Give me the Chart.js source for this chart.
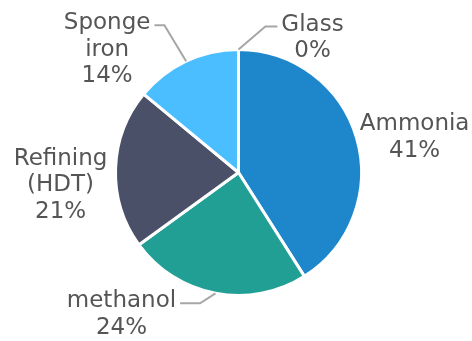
<!DOCTYPE html>
<html lang="en">
<head>
    <meta charset="UTF-8">
    <title>Hydrogen demand by use</title>
    <script src="https://cdn.jsdelivr.net/npm/chart.js"></script>
    <style>
        body {
            margin: 0;
            padding: 0;
            background-color: #fff;
        }
        canvas {
            display: block;
        }
    </style>
</head>
<body>
<canvas id="useChart" width="472" height="341"></canvas>
<script>
    // Slices, clockwise from 12 o'clock
    const categories = [['Ammonia'], ['methanol'], ['Refining', '(HDT)'], ['Sponge', 'iron'], ['Glass']];
    const shares = [41, 24, 21, 14, 0];
    const sliceColors = ['#1E87CB', '#229F95', '#4A5067', '#4BBEFF', '#A5A5A5'];

    // Label placement: offset of the text block (centre x, first baseline) from the slice's outer mid point,
    // and length of the horizontal part of the leader line (0 = no leader)
    const labelOffsets = [[58, -8], [-94, 14], [-55, -4], [-79, -32], [74, -19]];
    const leaderRuns = [0, 20, 0, 10, 12];

    const lineHeight = 26.5;
    const labelFont = '23px "DejaVu Sans", Verdana, sans-serif';

    const outsideLabels = {
        id: 'outsideLabels',
        afterDatasetsDraw(chart) {
            const ctx = chart.ctx;
            const meta = chart.getDatasetMeta(0);
            ctx.save();
            ctx.font = labelFont;
            ctx.textBaseline = 'alphabetic';
            meta.data.forEach((arc, i) => {
                const p = arc.getProps(['x', 'y', 'startAngle', 'endAngle', 'outerRadius'], true);
                const mid = (p.startAngle + p.endAngle) / 2;
                const ex = p.x + Math.cos(mid) * p.outerRadius;
                const ey = p.y + Math.sin(mid) * p.outerRadius;
                const tx = ex + labelOffsets[i][0];
                const ty = ey + labelOffsets[i][1];
                const lines = categories[i].concat([shares[i] + '%']);

                if (leaderRuns[i] > 0) {
                    const half = ctx.measureText(lines[0]).width / 2;
                    const side = tx > ex ? -1 : 1;
                    const endX = tx + side * (half + 4);
                    const lineY = ty - 4;
                    ctx.strokeStyle = '#A6A6A6';
                    ctx.lineWidth = 2;
                    ctx.beginPath();
                    ctx.moveTo(ex, ey);
                    ctx.lineTo(endX + side * leaderRuns[i], lineY);
                    ctx.lineTo(endX, lineY);
                    ctx.stroke();
                }

                ctx.fillStyle = '#555555';
                ctx.textAlign = 'center';
                lines.forEach((line, k) => {
                    ctx.fillText(line, tx, ty + k * lineHeight);
                });
            });
            ctx.restore();
        }
    };

    new Chart(document.getElementById('useChart').getContext('2d'), {
        type: 'pie',
        data: {
            labels: categories,
            datasets: [{
                data: shares,
                backgroundColor: sliceColors,
                borderColor: '#fff',
                borderWidth: 3
            }]
        },
        options: {
            responsive: false,
            animation: false,
            layout: {
                padding: { top: 48, bottom: 44, left: 114, right: 109 }
            },
            plugins: {
                legend: { display: false },
                tooltip: { enabled: false }
            }
        },
        plugins: [outsideLabels]
    });
</script>
</body>
</html>
